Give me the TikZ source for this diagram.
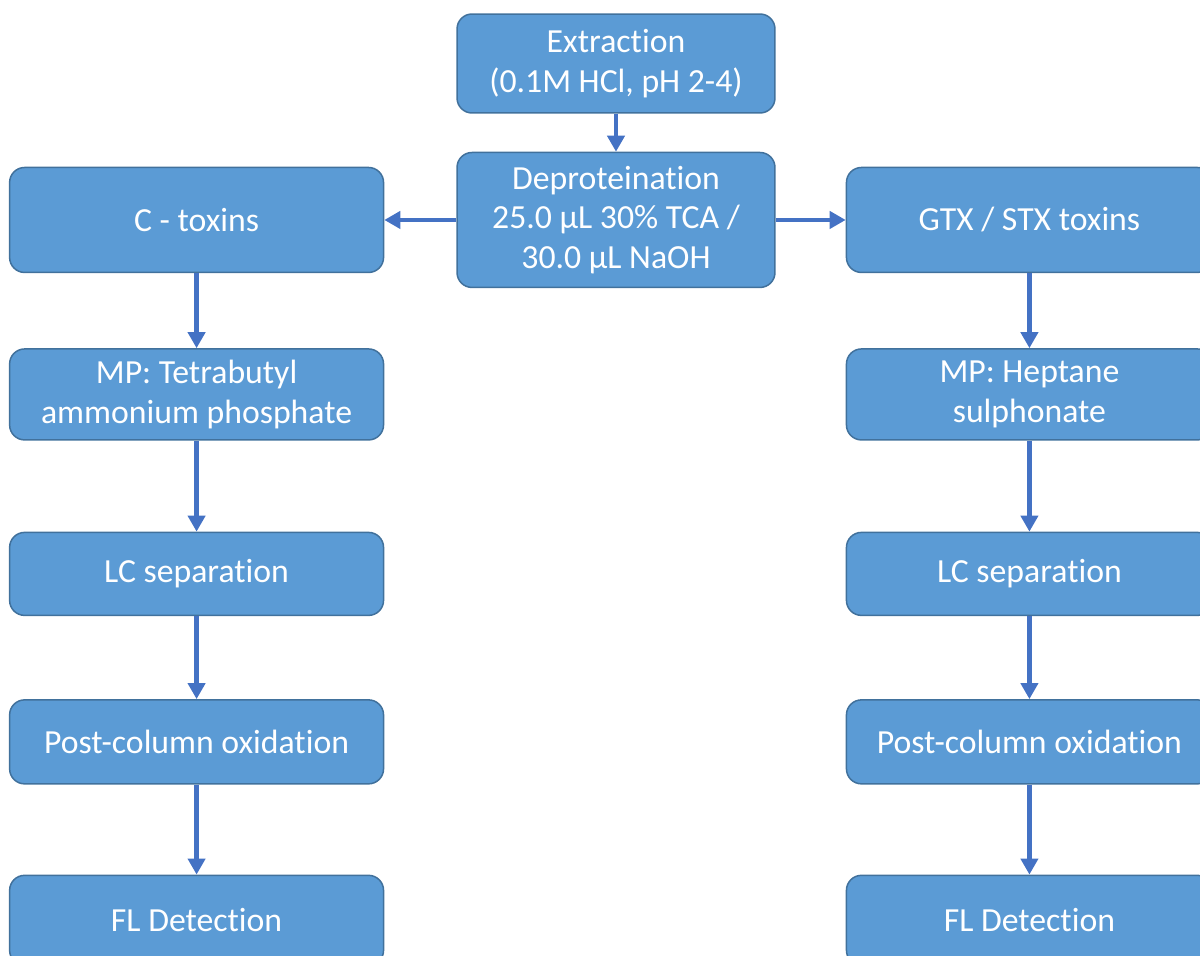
\documentclass[tikz,border=0pt]{standalone}
\usepackage{fontspec}
\setmainfont[Ligatures={NoCommon,NoContextual},RawFeature={-liga;-clig;-rlig;-ccmp;-dlig}]{Carlito}
\usetikzlibrary{shapes,arrows.meta,positioning}
\definecolor{boxfill}{HTML}{5B9BD5}
\definecolor{boxline}{HTML}{41719C}
\definecolor{arrowblue}{HTML}{4472C4}
\tikzstyle{block} = [draw=boxline, fill=boxfill, rectangle, rounded corners=0.3cm,
    line width=0.03cm, text=white, align=center, inner sep=0pt,
    font=\fontsize{19.2}{22.6}\selectfont, minimum width=7.48cm]
\tikzstyle{line} = [draw=arrowblue, line width=0.09cm,
    -{Triangle[length=0.32cm,width=0.34cm]}]
\begin{document}
\begin{tikzpicture}[x=0.02cm, y=-0.02cm, node distance=1.6cm]
    \useasboundingbox (0,0) rectangle (1200,956);
    % We start by placing the centre blocks
    \node [block, minimum width=6.36cm, minimum height=1.98cm] (extract) at (616,63.5)
        {Extraction\\(0.1M HCl, pH 2-4)};
    \node [block, minimum width=6.36cm, minimum height=2.7cm,
            below=0.76cm of extract] (deprot)
        {Deproteination\\25.0 µL 30\% TCA /\\30.0 µL NaOH};
    % C - toxins branch
    \node [block, minimum height=2.1cm, left=1.44cm of deprot] (ctox) {C - toxins};
    \node [block, minimum height=1.82cm, below=1.50cm of ctox] (mpc)
        {MP: Tetrabutyl\\ammonium phosphate};
    \node [block, minimum height=1.66cm, below=1.82cm of mpc] (lcc) {LC separation};
    \node [block, minimum height=1.68cm, below=1.66cm of lcc] (oxc) {Post-column oxidation};
    \node [block, minimum height=1.8cm, below=1.80cm of oxc] (flc) {FL Detection};
    % GTX / STX branch
    \node [block, minimum width=7.32cm, minimum height=2.1cm,
            right=1.4cm of deprot] (gtx) {GTX / STX toxins};
    \node [block, minimum width=7.32cm, minimum height=1.82cm, below=1.50cm of gtx] (mpg)
        {MP: Heptane\\sulphonate};
    \node [block, minimum width=7.32cm, minimum height=1.66cm, below=1.82cm of mpg] (lcg)
        {LC separation};
    \node [block, minimum width=7.32cm, minimum height=1.68cm, below=1.66cm of lcg] (oxg)
        {Post-column oxidation};
    \node [block, minimum width=7.32cm, minimum height=1.8cm, below=1.80cm of oxg] (flg)
        {FL Detection};

    % Once the nodes are placed, connecting them is easy.
    \draw [line] (extract) -- (deprot);
    \draw [line] (deprot) -- (ctox);
    \draw [line] (deprot) -- (gtx);
    \draw [line] (ctox) -- (mpc);
    \draw [line] (mpc) -- (lcc);
    \draw [line] (lcc) -- (oxc);
    \draw [line] (oxc) -- (flc);
    \draw [line] (gtx) -- (mpg);
    \draw [line] (mpg) -- (lcg);
    \draw [line] (lcg) -- (oxg);
    \draw [line] (oxg) -- (flg);
\end{tikzpicture}
\end{document}
